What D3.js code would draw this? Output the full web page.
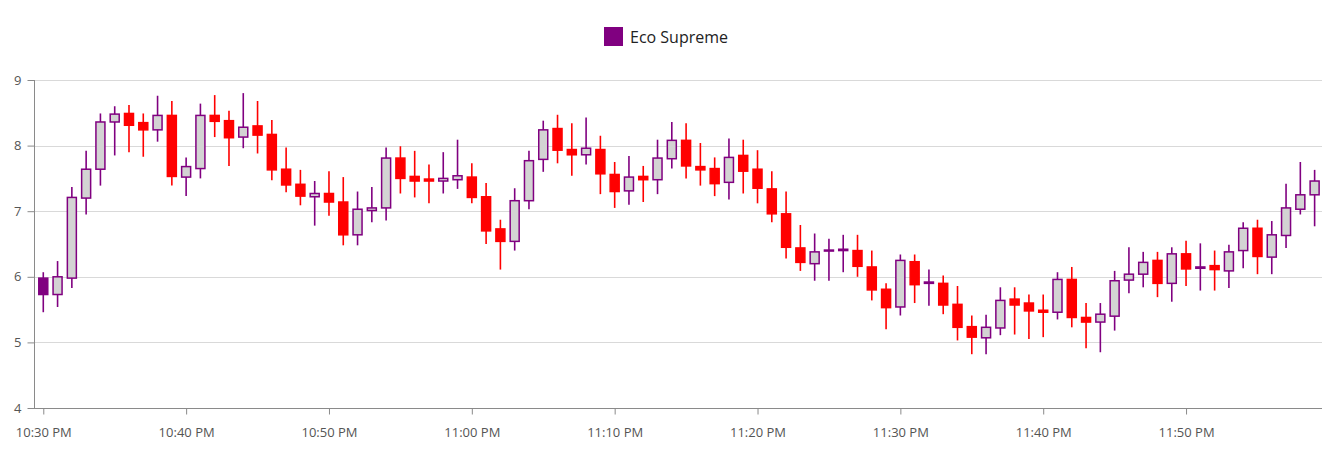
<!DOCTYPE html>
<html><head><meta charset="utf-8">
<script src="https://cdn.jsdelivr.net/npm/d3@7"></script>
<style>
html,body{margin:0;padding:0;background:#fff;}
svg{display:block;font-family:"Open Sans","Noto Sans",sans-serif;}
</style></head>
<body>
<svg id="chart" width="1341" height="454"></svg>
<script>
const seriesName = "Eco Supreme";
const startTime = new Date(2024, 0, 1, 22, 30);
const open  = [5.73,5.73,5.98,7.20,7.64,8.36,8.49,8.35,8.24,8.46,7.52,7.65,8.46,8.38,8.13,8.30,8.17,7.64,7.41,7.22,7.27,7.14,6.64,7.01,7.05,7.81,7.53,7.49,7.46,7.48,7.52,7.22,6.73,6.54,7.16,7.79,8.26,7.94,7.86,7.94,7.56,7.31,7.53,7.48,7.80,8.08,7.68,7.65,7.44,7.85,7.64,7.34,6.96,6.44,6.20,6.40,6.40,6.40,6.15,5.81,5.54,6.23,5.90,5.90,5.58,5.24,5.07,5.22,5.66,5.60,5.49,5.46,5.96,5.38,5.31,5.40,5.95,6.04,6.25,5.90,6.35,6.13,6.17,6.09,6.40,6.74,6.30,6.63,7.03,7.25];
const high  = [6.07,6.24,7.37,7.92,8.49,8.60,8.62,8.49,8.76,8.68,7.82,8.64,8.77,8.53,8.80,8.68,8.39,7.97,7.63,7.46,7.61,7.52,7.30,7.37,7.97,7.99,7.92,7.71,7.90,8.09,7.73,7.43,6.87,7.35,7.92,8.38,8.47,8.34,8.43,8.15,7.75,7.84,7.69,8.09,8.36,8.34,8.04,7.82,8.11,8.09,7.93,7.61,7.30,6.79,6.66,6.58,6.64,6.64,6.40,5.90,6.34,6.34,6.11,6.02,5.86,5.41,5.42,5.84,5.84,5.73,5.73,6.07,6.15,5.60,5.60,6.09,6.45,6.38,6.38,6.45,6.55,6.51,6.40,6.49,6.83,6.87,6.85,7.42,7.75,7.63];
const low   = [5.46,5.54,5.83,6.95,7.39,7.85,7.90,7.83,8.06,7.39,7.23,7.50,8.13,7.69,7.96,7.88,7.47,7.29,7.09,6.78,6.93,6.48,6.48,6.83,6.86,7.27,7.21,7.12,7.27,7.34,7.12,6.50,6.11,6.40,7.03,7.60,7.73,7.54,7.71,7.26,7.05,7.10,7.14,7.26,7.65,7.50,7.39,7.23,7.18,7.27,7.12,6.83,6.28,6.09,5.94,5.94,6.07,6.00,5.64,5.20,5.41,5.60,5.56,5.43,5.03,4.82,4.82,5.11,5.12,5.05,5.08,5.35,5.23,4.91,4.85,5.18,5.75,5.84,5.69,5.62,5.86,5.79,5.79,5.83,6.13,6.04,6.04,6.44,6.95,6.77];
const close = [5.98,6.00,7.21,7.64,8.36,8.48,8.31,8.24,8.46,7.53,7.68,8.46,8.37,8.12,8.28,8.16,7.63,7.40,7.23,7.27,7.14,6.64,7.03,7.05,7.81,7.50,7.46,7.46,7.50,7.54,7.21,6.70,6.54,7.16,7.77,8.24,7.93,7.86,7.96,7.57,7.30,7.52,7.48,7.81,8.08,7.69,7.63,7.42,7.82,7.61,7.35,6.96,6.45,6.22,6.38,6.40,6.42,6.16,5.80,5.53,6.25,5.88,5.92,5.57,5.23,5.08,5.23,5.64,5.57,5.48,5.46,5.96,5.38,5.31,5.43,5.94,6.04,6.22,5.90,6.35,6.12,6.15,6.11,6.38,6.74,6.31,6.64,7.05,7.25,7.46];
const yTicks = [4,5,6,7,8,9];

const data = open.map((o,i)=>({
  t: d3.timeMinute.offset(startTime, i), o, h: high[i], l: low[i], c: close[i], i
}));

const svg = d3.select("#chart");
const mLeft = 34, mRight = 1322, mTop = 80, mBottom = 408;

const x = d3.scaleTime()
  .domain([d3.timeSecond.offset(startTime, -39), d3.timeSecond.offset(data[data.length-1].t, 31)])
  .range([mLeft, mRight]);
const y = d3.scaleLinear().domain([4, 9]).range([mBottom, mTop]);

const PURPLE = "#800080", RED = "#ff0000", GRAY = "#d3d3d3";

// gridlines
svg.append("g").selectAll("line").data(yTicks.filter(v=>v>4)).join("line")
  .attr("x1", mLeft).attr("x2", mRight)
  .attr("y1", d=>Math.round(y(d))+0.5).attr("y2", d=>Math.round(y(d))+0.5)
  .attr("stroke", "#d9d9d9").attr("stroke-width", 1);

// axes
const yAxis = svg.append("g").attr("transform", `translate(${mLeft+0.5},0)`)
  .call(d3.axisLeft(y).tickValues(yTicks).tickSize(7).tickPadding(6).tickFormat(d3.format("d")));
const xAxis = svg.append("g").attr("transform", `translate(0,${mBottom+0.5})`)
  .call(d3.axisBottom(x).ticks(d3.timeMinute.every(10)).tickSize(6).tickPadding(13).tickFormat(d3.timeFormat("%-I:%M %p")));
[yAxis, xAxis].forEach(g=>{
  g.select(".domain").attr("stroke", "#8a8a8a");
  g.selectAll(".tick line").attr("stroke", "#8a8a8a");
  g.selectAll(".tick text").attr("fill", "#555").style("font-size", "13px")
   .style("font-family", '"Open Sans","Noto Sans",sans-serif');
});
yAxis.select(".domain").attr("d", `M0,${mTop}V${mBottom}`);
xAxis.select(".domain").attr("d", `M${mLeft},0H${mRight}`);

// candles
const bw = 9;
const cg = svg.append("g");
const color = d => d.i === 0 ? PURPLE : (d.c >= d.o ? PURPLE : RED);
cg.selectAll("line.wick").data(data).join("line").attr("class","wick")
  .attr("x1", d=>x(d.t)).attr("x2", d=>x(d.t))
  .attr("y1", d=>y(d.h)).attr("y2", d=>y(d.l))
  .attr("stroke", color).attr("stroke-width", 1.6);
cg.selectAll("rect.body").data(data).join("rect").attr("class","body")
  .attr("x", d=>x(d.t)-bw/2).attr("width", bw)
  .attr("y", d=>{ const h = Math.abs(y(d.o)-y(d.c)); return y(Math.max(d.o,d.c)) - (h < 1 ? (1-h)/2 : 0); })
  .attr("height", d=>Math.max(1, Math.abs(y(d.o)-y(d.c))))
  .attr("fill", d=> d.i===0 ? PURPLE : (d.c >= d.o ? GRAY : RED))
  .attr("stroke", color).attr("stroke-width", 1.5);

// legend
const lg = svg.append("g");
lg.append("rect").attr("x", 604).attr("y", 27).attr("width", 19).attr("height", 19).attr("fill", PURPLE);
lg.append("text").attr("x", 630).attr("y", 43).text(seriesName)
  .attr("fill", "#222").style("font-size", "16px");
</script>
</body></html>
